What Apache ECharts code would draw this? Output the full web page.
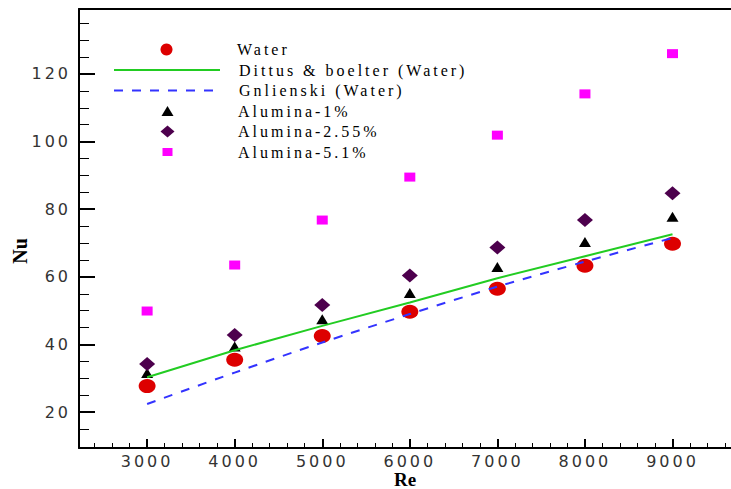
<!DOCTYPE html>
<html><head><meta charset="utf-8">
<script src="https://cdn.jsdelivr.net/npm/echarts@6/dist/echarts.min.js"></script>
<style>
html,body{margin:0;padding:0;background:#fff;}
#c{width:731px;height:489px;}
text[style*="DejaVu Sans"]{letter-spacing:3px;}
text[style*="Liberation Serif"]:not([style*="bold"]){letter-spacing:3px;}
</style></head><body><div id="c"></div>
<script>
const reynolds = [3000, 4000, 5000, 6000, 7000, 8000, 9000];
const water = [27.7, 35.5, 42.5, 49.7, 56.5, 63.3, 69.8];
const dittusBoelter = [30.3, 38.3, 45.5, 52.4, 59.6, 66.1, 72.6];
const gnielinski = [22.4, 31.7, 40.6, 49.0, 57.1, 64.5, 71.5];
const alumina1 = [31.6, 39.4, 47.5, 55.2, 62.9, 70.3, 77.8];
const alumina255 = [34.2, 42.8, 51.7, 60.4, 68.7, 76.8, 84.7];
const alumina51 = [49.9, 63.5, 76.8, 89.5, 101.9, 114.1, 126.0];
const seriesNames = ['Water', 'Dittus & boelter (Water)', 'Gnlienski (Water)', 'Alumina-1%', 'Alumina-2.55%', 'Alumina-5.1%'];
const xTitle = 'Re', yTitle = 'Nu';
const xMajorTicks = [3000, 4000, 5000, 6000, 7000, 8000, 9000];
const xMinorTicks = [2400, 2600, 2800, 3200, 3400, 3600, 3800, 4200, 4400, 4600, 4800, 5200, 5400, 5600, 5800,
  6200, 6400, 6600, 6800, 7200, 7400, 7600, 7800, 8200, 8400, 8600, 8800, 9200, 9400, 9600];
const yMajorTicks = [20, 40, 60, 80, 100, 120];
const yMinorTicks = [15, 25, 30, 35, 45, 50, 55, 65, 70, 75, 85, 90, 95, 105, 110, 115, 125, 130, 135];

const X_MIN = 2222, X_MAX = 9668, Y_MIN = 9.4, Y_MAX = 139.2;
const pairs = arr => reynolds.map((r, i) => [r, arr[i]]);
const labelFont = {fontFamily: 'DejaVu Sans', fontSize: 16, color: '#333', formatter: v => String(v)};
const legendText = pad => ({fontFamily: 'Liberation Serif', fontSize: 16, color: '#000', lineHeight: 16, padding: [0, 0, 0, pad]});
const titleStyle = (text, size) => ({text: text, fontFamily: 'Liberation Serif', fontWeight: 'bold', fontSize: size, fill: '#000',
                              align: 'center', verticalAlign: 'middle'});
// legend icon centre x and text start x (reference layout)
const ICON_CX = 167.5, TEXT_X = 238;
function scatterLegend(name, w, h, cy) {
  return {orient: 'vertical', left: ICON_CX - w / 2, top: cy - 8, padding: 0, itemWidth: w, itemHeight: h,
          symbolKeepAspect: false, textStyle: legendText(TEXT_X - (ICON_CX + w / 2) - 5), data: [name]};
}

const chart = echarts.init(document.getElementById('c'), null, {renderer: 'svg'});
chart.setOption({
  animation: false,
  backgroundColor: '#fff',
  grid: {left: 79, right: 0, top: 9, bottom: 41, show: false, containLabel: false, outerBoundsMode: 'none'},
  legend: [
    scatterLegend(seriesNames[0], 14, 12, 49.5),
    {orient: 'vertical', left: 113, top: 62, padding: 0, itemWidth: 106, itemHeight: 12, itemGap: 4.5,
     textStyle: legendText(14),
     data: [{name: seriesNames[1], itemStyle: {opacity: 0}}, {name: seriesNames[2], itemStyle: {opacity: 0}}]},
    scatterLegend(seriesNames[3], 12, 10, 111),
    scatterLegend(seriesNames[4], 14, 12, 131.5),
    scatterLegend(seriesNames[5], 10, 8, 152)
  ],
  xAxis: [
    {type: 'value', min: X_MIN, max: X_MAX, position: 'bottom',
     axisLine: {show: true, lineStyle: {color: '#000', width: 2}},
     axisTick: {show: true, inside: false, length: -9, lineStyle: {color: '#000', width: 2}, customValues: xMajorTicks},
     axisLabel: Object.assign({show: true, margin: 5, customValues: xMajorTicks}, labelFont),
     splitLine: {show: false}},
    {type: 'value', min: X_MIN, max: X_MAX, position: 'bottom',
     axisLine: {show: false},
     axisTick: {show: true, inside: false, length: -5, lineStyle: {color: '#000', width: 1}, customValues: xMinorTicks},
     axisLabel: {show: false}, splitLine: {show: false}},
    {type: 'value', min: X_MIN, max: X_MAX, position: 'top',
     axisLine: {show: true, lineStyle: {color: '#000', width: 2}},
     axisTick: {show: false}, axisLabel: {show: false}, splitLine: {show: false}}
  ],
  yAxis: [
    {type: 'value', min: Y_MIN, max: Y_MAX, position: 'left',
     axisLine: {show: true, lineStyle: {color: '#000', width: 2}},
     axisTick: {show: true, inside: false, length: -16, lineStyle: {color: '#000', width: 2}, customValues: yMajorTicks},
     axisLabel: Object.assign({show: true, margin: 8, customValues: yMajorTicks}, labelFont),
     splitLine: {show: false}},
    {type: 'value', min: Y_MIN, max: Y_MAX, position: 'left',
     axisLine: {show: false},
     axisTick: {show: true, inside: false, length: -10, lineStyle: {color: '#000', width: 1}, customValues: yMinorTicks},
     axisLabel: {show: false}, splitLine: {show: false}}
  ],
  graphic: [
    {type: 'text', x: 20, y: 251, rotation: Math.PI / 2, style: titleStyle(yTitle, 20)},
    {type: 'text', x: 405, y: 479, style: titleStyle(xTitle, 19)}
  ],
  series: [
    {name: seriesNames[0], type: 'scatter', data: pairs(water), symbol: 'circle', symbolSize: [17, 14],
     itemStyle: {color: '#dd0000', opacity: 1}, z: 2},
    {name: seriesNames[1], type: 'line', data: pairs(dittusBoelter), showSymbol: false, symbol: 'none',
     lineStyle: {color: '#22cc22', width: 2}, itemStyle: {color: '#22cc22'}, z: 4},
    {name: seriesNames[2], type: 'line', data: pairs(gnielinski), showSymbol: false, symbol: 'none', smooth: 0.3,
     lineStyle: {color: '#3333ff', width: 2, type: [9, 9]}, itemStyle: {color: '#3333ff'}, z: 4},
    {name: seriesNames[3], type: 'scatter', data: pairs(alumina1), symbol: 'triangle', symbolSize: [12, 10],
     itemStyle: {color: '#000', opacity: 1}, z: 2},
    {name: seriesNames[4], type: 'scatter', data: pairs(alumina255), symbol: 'diamond', symbolSize: [16, 14],
     itemStyle: {color: '#4d004d', opacity: 1}, z: 2},
    {name: seriesNames[5], type: 'scatter', data: pairs(alumina51), symbol: 'rect', symbolSize: [11, 9],
     itemStyle: {color: '#ff00ff', opacity: 1}, z: 2}
  ]
});
</script></body></html>
